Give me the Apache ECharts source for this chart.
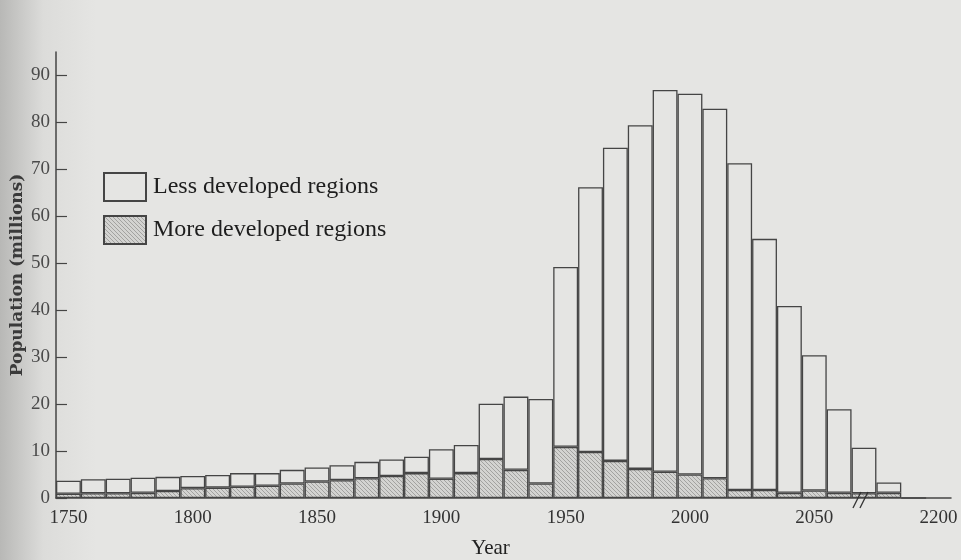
<!DOCTYPE html>
<html>
<head>
<meta charset="utf-8">
<script src="https://cdn.jsdelivr.net/npm/echarts@6/dist/echarts.min.js"></script>
<style>
  html, body { margin: 0; padding: 0; }
  #myChart { width: 961px; height: 560px; }
</style>
</head>
<body>
<div id="myChart"></div>
<script>
// decades, the gap after 2070 is the axis break
var categories = ['1750','1760','1770','1780','1790','1800','1810','1820','1830','1840',
  '1850','1860','1870','1880','1890','1900','1910','1920','1930','1940',
  '1950','1960','1970','1980','1990','2000','2010','2020','2030','2040',
  '2050','2060','2070','2180','2190','2200'];
var tickLabels = ['1750','1800','1850','1900','1950','2000','2050','2200'];
var yTicks = [0, 10, 20, 30, 40, 50, 60, 70, 80, 90];

// population (millions)
var moreDeveloped = [0.9,1.0,1.0,1.1,1.5,2.1,2.2,2.4,2.6,3.1,
  3.5,3.8,4.2,4.7,5.3,4.1,5.3,8.3,6.0,3.1,
  10.9,9.8,7.9,6.2,5.6,5.0,4.2,1.7,1.7,1.1,
  1.6,1.1,1.0,1.1,0,null];
var lessDeveloped = [2.8,3.0,3.1,3.2,3.0,2.6,2.7,2.9,2.7,2.9,
  3.0,3.2,3.5,3.5,3.5,6.3,6.0,11.8,15.6,18.0,
  38.3,56.4,66.7,73.2,81.3,81.1,78.7,69.6,53.5,39.8,
  28.8,17.8,9.7,2.2,-0.4,null];

var pageColor = '#e5e5e3';
var lineColor = '#454545';

// diagonal hatch for the more developed bars
function hatchPattern() {
  var c = document.createElement('canvas');
  c.width = 4; c.height = 4;
  var ctx = c.getContext('2d');
  ctx.fillStyle = '#d3d3d1';
  ctx.fillRect(0, 0, 4, 4);
  ctx.strokeStyle = '#a2a2a0';
  ctx.lineWidth = 1;
  ctx.beginPath();
  ctx.moveTo(-1, -1); ctx.lineTo(5, 5);
  ctx.moveTo(-1, 3); ctx.lineTo(1, 5);
  ctx.moveTo(3, -1); ctx.lineTo(5, 1);
  ctx.stroke();
  return { image: c, repeat: 'repeat' };
}

var serif = '"Liberation Serif", "DejaVu Serif", serif';

var option = {
  animation: false,
  backgroundColor: {
    type: 'linear', x: 0, y: 0, x2: 1, y2: 0,
    colorStops: [
      { offset: 0, color: '#b8b8b6' },
      { offset: 0.045, color: '#dcdcda' },
      { offset: 0.1, color: pageColor },
      { offset: 1, color: pageColor }
    ]
  },
  grid: { left: 56, right: 10, top: 52, bottom: 62, outerBoundsMode: 'none' },
  legend: {
    orient: 'vertical',
    left: 103, top: 172,
    padding: 0,
    icon: 'rect',
    itemWidth: 42, itemHeight: 28, itemGap: 13,
    data: ['Less developed regions', 'More developed regions'],
    textStyle: { fontFamily: serif, fontSize: 24, color: '#1e1e1e', padding: [0, 0, 0, 2] }
  },
  xAxis: {
    type: 'category',
    data: categories,
    name: 'Year',
    nameLocation: 'middle',
    nameGap: 40,
    nameMoveOverlap: false,
    nameTextStyle: { fontFamily: serif, fontSize: 21, color: '#222', padding: [0, 26, 0, 0] },
    axisLine: { lineStyle: { color: lineColor, width: 1.5 } },
    axisTick: { show: false },
    axisLabel: {
      interval: 0,
      margin: 11,
      fontFamily: serif, fontSize: 19, color: '#333',
      formatter: function (v) { return tickLabels.indexOf(v) >= 0 ? v : ''; }
    }
  },
  yAxis: {
    type: 'value',
    min: 0, max: 95,
    name: 'Population (millions)',
    nameLocation: 'middle',
    nameGap: 30,
    nameMoveOverlap: false,
    nameTextStyle: { fontFamily: '"DejaVu Serif", serif', fontSize: 17, fontWeight: 'bold', color: '#3a3a3a' },
    axisLine: { show: true, lineStyle: { color: lineColor, width: 1.5 } },
    axisTick: { show: true, inside: true, length: 11, customValues: yTicks, lineStyle: { color: lineColor, width: 1.2 } },
    axisLabel: { customValues: yTicks, margin: 6, fontFamily: serif, fontSize: 19, color: '#4a4a4a' },
    splitLine: { show: false }
  },
  series: [
    {
      name: 'More developed regions',
      type: 'bar',
      stack: 'pop',
      barCategoryGap: 0,
      data: moreDeveloped,
      itemStyle: { color: hatchPattern(), borderColor: lineColor, borderWidth: 1.3 }
    },
    {
      name: 'Less developed regions',
      type: 'bar',
      stack: 'pop',
      barCategoryGap: 0,
      z: 3,
      data: lessDeveloped,
      itemStyle: { color: pageColor, borderColor: lineColor, borderWidth: 1.3 }
    }
  ]
};

var myChart = echarts.init(document.getElementById('myChart'));
myChart.setOption(option);

// axis break marks "//" on the 2070 slot
var bx = myChart.convertToPixel({ xAxisIndex: 0 }, '2070') - 4;
var by = myChart.convertToPixel({ yAxisIndex: 0 }, 0);
myChart.setOption({
  graphic: [
    { type: 'line', z: 10, shape: { x1: bx - 7, y1: by + 10, x2: bx + 1, y2: by - 6 }, style: { stroke: '#333', lineWidth: 1.3 } },
    { type: 'line', z: 10, shape: { x1: bx, y1: by + 10, x2: bx + 8, y2: by - 6 }, style: { stroke: '#333', lineWidth: 1.3 } }
  ]
});
</script>
</body>
</html>
